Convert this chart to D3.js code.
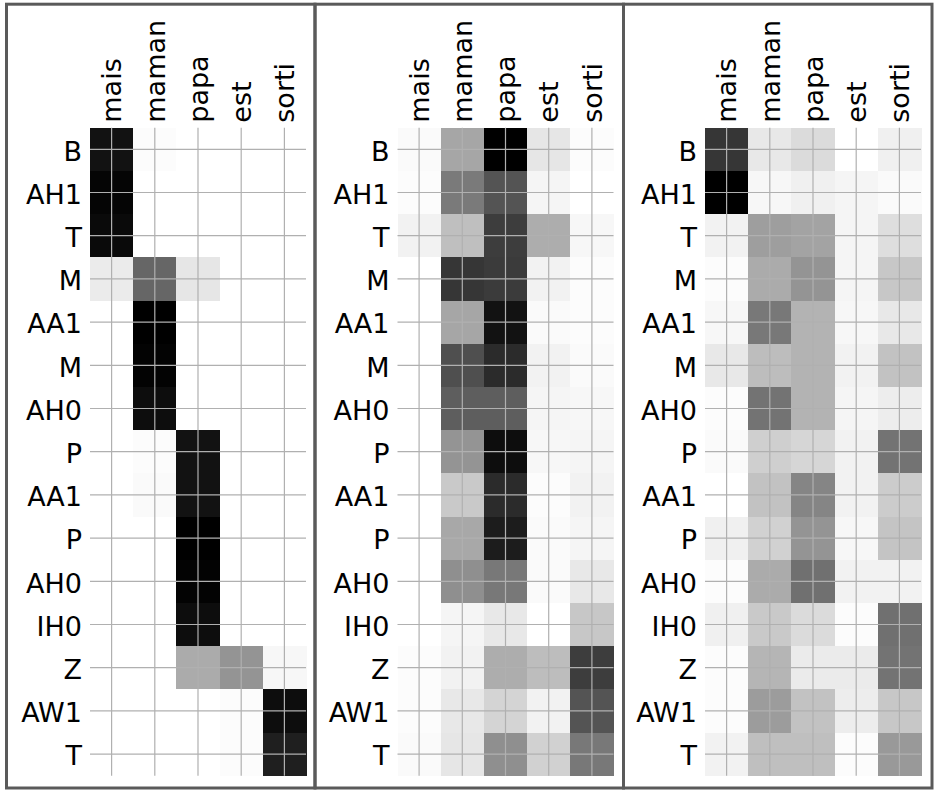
<!DOCTYPE html>
<html>
<head>
<meta charset="utf-8">
<script src="https://cdn.jsdelivr.net/npm/d3@7"></script>
<style>
  html, body { margin: 0; padding: 0; background: #ffffff; }
  svg { display: block; }
  text { font-family: "DejaVu Sans", sans-serif; fill: #000; }
</style>
</head>
<body>
<svg id="chart" width="939" height="795"></svg>
<script>
// ---- data ----
const words = ["mais", "maman", "papa", "est", "sorti"];
const phonemes = ["B", "AH1", "T", "M", "AA1", "M", "AH0", "P", "AA1", "P", "AH0", "IH0", "Z", "AW1", "T"];

// attention weights (rows = phonemes, columns = words), panel 1
const weightsA = [
  [0.93, 0.01, 0.00, 0.00, 0.00],
  [0.98, 0.00, 0.00, 0.00, 0.00],
  [0.96, 0.00, 0.00, 0.00, 0.00],
  [0.08, 0.60, 0.10, 0.00, 0.00],
  [0.00, 1.00, 0.00, 0.00, 0.00],
  [0.00, 0.99, 0.00, 0.00, 0.00],
  [0.00, 0.95, 0.00, 0.00, 0.00],
  [0.00, 0.01, 0.93, 0.00, 0.00],
  [0.00, 0.02, 0.93, 0.00, 0.00],
  [0.00, 0.00, 1.00, 0.00, 0.00],
  [0.00, 0.00, 0.99, 0.00, 0.00],
  [0.00, 0.00, 0.95, 0.00, 0.00],
  [0.00, 0.00, 0.33, 0.42, 0.03],
  [0.00, 0.00, 0.00, 0.01, 0.95],
  [0.00, 0.00, 0.00, 0.01, 0.88]
];

// panel 2
const weightsB = [
  [0.02, 0.35, 1.00, 0.10, 0.01],
  [0.01, 0.52, 0.67, 0.04, 0.00],
  [0.05, 0.25, 0.76, 0.32, 0.03],
  [0.00, 0.79, 0.77, 0.05, 0.01],
  [0.00, 0.35, 0.93, 0.02, 0.01],
  [0.00, 0.69, 0.83, 0.05, 0.02],
  [0.00, 0.63, 0.63, 0.04, 0.03],
  [0.00, 0.42, 0.95, 0.03, 0.04],
  [0.00, 0.21, 0.83, 0.01, 0.05],
  [0.00, 0.34, 0.89, 0.02, 0.04],
  [0.00, 0.44, 0.53, 0.02, 0.09],
  [0.00, 0.04, 0.09, 0.00, 0.22],
  [0.01, 0.05, 0.32, 0.26, 0.76],
  [0.01, 0.09, 0.17, 0.05, 0.67],
  [0.02, 0.10, 0.44, 0.18, 0.53]
];

// panel 3
const weightsC = [
  [0.79, 0.09, 0.14, 0.00, 0.06],
  [1.00, 0.03, 0.06, 0.04, 0.02],
  [0.05, 0.38, 0.36, 0.04, 0.13],
  [0.01, 0.33, 0.42, 0.04, 0.22],
  [0.03, 0.53, 0.30, 0.03, 0.09],
  [0.09, 0.26, 0.30, 0.05, 0.24],
  [0.01, 0.55, 0.30, 0.04, 0.07],
  [0.02, 0.19, 0.16, 0.05, 0.55],
  [0.00, 0.24, 0.48, 0.05, 0.20],
  [0.06, 0.18, 0.42, 0.03, 0.23],
  [0.01, 0.33, 0.56, 0.05, 0.05],
  [0.06, 0.21, 0.14, 0.01, 0.56],
  [0.01, 0.29, 0.08, 0.08, 0.55],
  [0.01, 0.39, 0.24, 0.07, 0.22],
  [0.05, 0.25, 0.25, 0.01, 0.40]
];

const panels = [weightsA, weightsB, weightsC];

// ---- layout ----
const svg = d3.select("#chart");
const frameW = 308.5, frameX0 = 6.5, frameY = 4.2, frameH = 783.8;
const heatX0 = 90, heatStep = 307.5, heatTop = 127.7;
const heatW = 216, heatH = 648;
const fontSize = 27;

const color = d3.scaleLinear().domain([0, 1]).range(["#ffffff", "#000000"]);
const x = d3.scaleBand().domain(d3.range(words.length)).range([0, heatW]);
const y = d3.scaleBand().domain(d3.range(phonemes.length)).range([0, heatH]);

panels.forEach((data, p) => {
  const g = svg.append("g")
    .attr("transform", `translate(${heatX0 + p * heatStep},${heatTop})`);

  // cells
  const cells = [];
  data.forEach((row, r) => row.forEach((v, c) => cells.push({ r, c, v })));
  g.selectAll("rect.cell").data(cells).enter().append("rect")
    .attr("class", "cell")
    .attr("x", d => x(d.c))
    .attr("y", d => y(d.r))
    .attr("width", x.bandwidth() + 0.5)
    .attr("height", y.bandwidth() + 0.5)
    .attr("fill", d => color(d.v))
    .attr("shape-rendering", "crispEdges");

  // grid lines at cell centres
  g.selectAll("line.vg").data(d3.range(words.length)).enter().append("line")
    .attr("x1", d => x(d) + x.bandwidth() / 2)
    .attr("x2", d => x(d) + x.bandwidth() / 2)
    .attr("y1", 0).attr("y2", heatH)
    .attr("stroke", "#b0b0b0").attr("stroke-width", 1.2);
  g.selectAll("line.hg").data(d3.range(phonemes.length)).enter().append("line")
    .attr("y1", d => y(d) + y.bandwidth() / 2)
    .attr("y2", d => y(d) + y.bandwidth() / 2)
    .attr("x1", 0).attr("x2", heatW)
    .attr("stroke", "#b0b0b0").attr("stroke-width", 1.2);

  // top axis labels (rotated)
  g.selectAll("text.xl").data(words).enter().append("text")
    .attr("transform", (d, i) => `translate(${x(i) + x.bandwidth() / 2},-5) rotate(-90)`)
    .attr("dy", "0.36em")
    .attr("text-anchor", "start")
    .attr("font-size", fontSize)
    .text(d => d);

  // left axis labels
  g.selectAll("text.yl").data(phonemes).enter().append("text")
    .attr("x", -8)
    .attr("y", (d, i) => y(i) + y.bandwidth() / 2)
    .attr("dy", "0.42em")
    .attr("text-anchor", "end")
    .attr("font-size", fontSize)
    .text(d => d);
});

// panel frames
svg.selectAll("rect.frame").data(panels).enter().append("rect")
  .attr("x", (d, i) => frameX0 + i * frameW)
  .attr("y", frameY)
  .attr("width", frameW)
  .attr("height", frameH)
  .attr("fill", "none")
  .attr("stroke", "#5a5a5a")
  .attr("stroke-width", 3);
</script>
</body>
</html>
